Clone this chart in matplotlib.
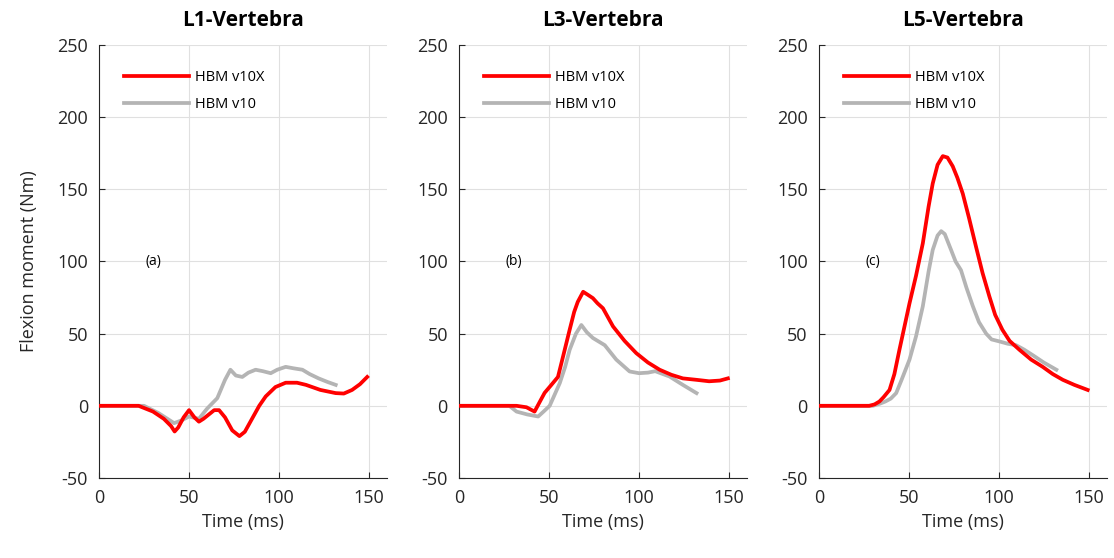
import matplotlib.pyplot as plt

plt.rcParams['font.family'] = ['Open Sans', 'DejaVu Sans']
plt.rcParams['axes.unicode_minus'] = False

titles = ["L1-Vertebra", "L3-Vertebra", "L5-Vertebra"]
tags = ["(a)", "(b)", "(c)"]

# L1
t_l1_x = [0, 22, 30, 36, 40, 42, 44, 47, 50, 53, 55.5, 58, 61, 64, 66.7, 70, 74, 78, 81, 85, 89, 92.6, 98, 103.7, 110, 115, 123, 131.5, 136, 140.6, 145, 149]
v_l1_x = [0, 0, -4, -9, -14, -17.8, -15, -8, -3, -8, -11, -9, -6, -3, -3, -8, -17, -21, -18, -9, 0, 6.5, 13, 16, 16, 14.5, 11, 8.8, 8.5, 11, 15, 20]
t_l1 = [0, 25, 33, 38, 41.7, 46, 50, 55.5, 60, 65.7, 70, 73, 76, 79.6, 83, 87, 91, 95.4, 99, 103.7, 108, 113, 117, 122, 127, 131.5]
v_l1 = [0, 0, -5, -9, -12, -10, -7.4, -9, -2, 5.3, 18, 25, 21, 20, 23, 25, 24, 22.6, 25, 27, 26, 25, 22, 19, 16.5, 14.5]

# L3
t_l3_x = [0, 26, 32, 37.5, 42, 45, 47.6, 51, 55, 58, 61.5, 64, 66, 69, 71.5, 74.4, 77, 80, 85.6, 92, 98.5, 105, 111.5, 118, 124.4, 132, 139, 145, 149.4]
v_l3_x = [0, 0, 0, -1, -4, 3, 9, 14, 20, 35, 52.7, 65, 72, 79, 77, 74.6, 71, 67.6, 55, 45, 36.5, 30, 25, 21.5, 19, 18, 17, 17.5, 19]
t_l3 = [0, 28, 32, 38, 44, 47, 50.4, 56, 59, 61.5, 65, 68, 71, 74.4, 81, 87.4, 94.8, 100, 105, 109, 117, 124.4, 132]
v_l3 = [0, 0, -4, -6, -7.4, -4, 0, 15.7, 27, 38.8, 50, 56, 51, 47, 42, 32, 23.8, 22.6, 23, 24, 20.3, 14.5, 8.8]

# L5
t_l5_x = [0, 28, 31, 33.7, 36, 39.3, 42, 44.8, 50.4, 54, 57.8, 61, 63.3, 66, 68.9, 71.5, 74.4, 77, 80, 83.5, 87.4, 91, 94.8, 98, 102, 106, 111.5, 118, 124.4, 130, 135.6, 142, 149.4]
v_l5_x = [0, 0, 1, 3, 6, 11, 22, 38.8, 71, 90, 112.6, 138, 154, 167, 173, 172, 166, 158, 147, 130, 110, 92, 75.7, 63, 52.7, 45, 38.8, 32, 27, 22, 18, 14.5, 11]
t_l5 = [0, 30, 34, 37, 40, 43, 46, 50.4, 54, 57.8, 61, 63.3, 66, 68, 70, 73.5, 76, 79, 82, 85.6, 89, 93, 96, 100.4, 105, 109.6, 114, 119, 125, 132]
v_l5 = [0, 0, 1.5, 3, 5, 8.8, 18, 32, 48, 69, 93, 108, 118, 121, 119, 108, 100, 94, 82, 69, 58, 50, 46, 44.6, 43, 42, 39, 35, 30, 25]

v10x = [(t_l1_x, v_l1_x), (t_l3_x, v_l3_x), (t_l5_x, v_l5_x)]
v10 = [(t_l1, v_l1), (t_l3, v_l3), (t_l5, v_l5)]

fig = plt.figure(figsize=(11.14, 5.58), dpi=100)
lefts = [0.0889, 0.412, 0.735]

for i in range(3):
    ax = fig.add_axes([lefts[i], 0.1434, 0.2585, 0.776])
    ax.plot(v10x[i][0], v10x[i][1], color='#ff0000', lw=2.7, label='HBM v10X', zorder=3,
            solid_joinstyle='round')
    ax.plot(v10[i][0], v10[i][1], color='#b4b4b4', lw=2.7, label='HBM v10', zorder=2,
            solid_joinstyle='round')
    ax.set_xlim(0, 160)
    ax.set_ylim(-50, 250)
    ax.set_xticks([0, 50, 100, 150])
    ax.set_yticks([-50, 0, 50, 100, 150, 200, 250])
    ax.grid(True, color='#e0e0e0', lw=0.8)
    ax.set_axisbelow(True)
    ax.spines['top'].set_visible(False)
    ax.spines['right'].set_visible(False)
    ax.spines['left'].set_color('#262626')
    ax.spines['bottom'].set_color('#262626')
    ax.tick_params(labelsize=13, colors='#262626', length=4, direction='in', pad=8)
    ax.set_title(titles[i], fontsize=15, fontweight='bold', pad=14)
    ax.set_xlabel('Time (ms)', fontsize=13, color='#262626', labelpad=4)
    if i == 0:
        ax.set_ylabel('Flexion moment (Nm)', fontsize=13, color='#262626', labelpad=14)
    ax.text(26, 100, tags[i], fontsize=10, ha='left', va='center')
    ax.legend(loc='upper left', frameon=False, fontsize=10.5, handlelength=4.5,
              borderaxespad=1.3, handletextpad=0.4, labelspacing=0.85)

fig.savefig('out.png', dpi=100)
